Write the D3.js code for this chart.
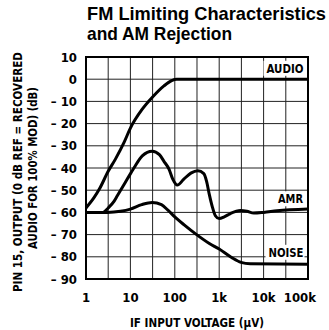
<!DOCTYPE html>
<html><head><meta charset="utf-8">
<script src="https://cdn.jsdelivr.net/npm/d3@7"></script>
<style>
html,body{margin:0;padding:0;background:#fff;}
svg{display:block;}
.c{font-family:"Liberation Sans Narrow","DejaVu Sans Condensed","Arial Narrow",sans-serif;font-weight:bold;}
</style></head>
<body><svg id="chart" width="329" height="330"></svg>
<script>
// ---- data ----
const titleLines = ["FM Limiting Characteristics", "and AM Rejection"];
const yTitleLines = ["PIN 15, OUTPUT (0 dB REF = RECOVERED", "AUDIO FOR 100% MOD) (dB)"];
const xTitle = "IF INPUT VOLTAGE (\u03bcV)";
const xTickValues = [1, 10, 100, 1000, 10000, 100000];
const xTickLabels = ["1", "10", "100", "1k", "10k", "100k"];
const xGridValues = [1, 3.162, 10, 31.62, 100, 316.2, 1000, 3162, 10000, 31620, 100000];
const yTickValues = [10, 0, -10, -20, -30, -40, -50, -60, -70, -80, -90];
const yTickLabels = ["10", "0", "\u2013 10", "\u2013 20", "\u2013 30", "\u2013 40", "\u2013 50", "\u2013 60", "\u2013 70", "\u2013 80", "\u2013 90"];

const audioX = [1, 1.5, 2, 3.16, 4.6, 7.2, 10, 18.5, 31.6, 57, 85, 110, 1000, 100000];
const audioY = [-58, -53.5, -49.5, -41.5, -36, -28.5, -22, -13.5, -8, -3, -0.6, 0, 0, 0];

const amrX = [1, 2.4, 3.16, 4.27, 5.07, 8.5, 12, 18.5, 31, 45, 57, 74, 90, 114, 160, 230, 330, 450, 520, 600, 700, 820, 1000, 1300, 1800, 3000, 4200, 6000, 10000, 20000, 100000];
const amrY = [-60, -60, -58, -55, -52.5, -45, -40, -34.5, -32.4, -34, -37, -40.5, -45, -47.7, -45, -42.3, -41.2, -42.5, -46, -52, -57.5, -61.5, -62.8, -62, -60.5, -59.2, -59.5, -60.3, -60, -59.3, -58.5];

const noiseX = [1, 3, 6, 10, 18, 31, 50, 70, 100, 160, 310, 600, 1000, 1900, 3100, 5000, 100000];
const noiseY = [-60, -60, -59.5, -58.5, -56.5, -55.5, -56.5, -59, -62, -65.5, -70, -74, -76.5, -80.3, -82.5, -83.1, -83.3];

const seriesLabels = ["AUDIO", "AMR", "NOISE"];

// ---- drawing ----
const svg = d3.select("#chart");
const x = d3.scaleLog().domain([1, 100000]).range([86, 308]);
const y = d3.scaleLinear().domain([10, -90]).range([57, 279]);

// title
const titleLen = [239, 145];
svg.selectAll(".title").data(titleLines).join("text")
  .attr("x", 87).attr("y", (d, i) => 20 + i * 20)
  .attr("textLength", (d, i) => titleLen[i]).attr("lengthAdjust", "spacingAndGlyphs")
  .style("font-family", "'Liberation Sans', Arial, sans-serif")
  .style("font-weight", "bold").style("font-size", "18.5px")
  .text(d => d);

// grid
const g = svg.append("g");
g.selectAll(".vg").data(xGridValues).join("line")
  .attr("x1", d => x(d)).attr("x2", d => x(d))
  .attr("y1", y(10)).attr("y2", y(-90))
  .attr("stroke", "#222").attr("stroke-width", 1);
g.selectAll(".hg").data(yTickValues).join("line")
  .attr("x1", x(1)).attr("x2", x(100000))
  .attr("y1", d => y(d)).attr("y2", d => y(d))
  .attr("stroke", "#222").attr("stroke-width", 1);
g.append("rect").attr("x", x(1)).attr("y", y(10))
  .attr("width", x(100000) - x(1)).attr("height", y(-90) - y(10))
  .attr("fill", "none").attr("stroke", "#000").attr("stroke-width", 2);

// y tick labels
svg.selectAll(".yl").data(yTickValues).join("text").attr("class", "c")
  .attr("x", 77).attr("y", d => y(d) + 4.5)
  .attr("text-anchor", "end").style("font-size", "13px")
  .text((d, i) => yTickLabels[i]);

// x tick labels
svg.selectAll(".xl").data(xTickValues).join("text").attr("class", "c")
  .attr("x", (d, i) => i === xTickValues.length - 1 ? x(d) + 8 : x(d))
  .attr("y", 302)
  .attr("text-anchor", (d, i) => i === xTickValues.length - 1 ? "end" : "middle")
  .style("font-size", "13px")
  .text((d, i) => xTickLabels[i]);

// x title
svg.append("text").attr("class", "c").attr("x", 197).attr("y", 327)
  .attr("text-anchor", "middle").style("font-size", "13px")
  .attr("textLength", 134).attr("lengthAdjust", "spacingAndGlyphs").text(xTitle);

// y title
const yTitleLen = [240, 162];
const yTitleCY = [172, 168];
svg.selectAll(".yt").data(yTitleLines).join("text").attr("class", "c")
  .attr("transform", (d, i) => `translate(${22 + i * 15},${yTitleCY[i]}) rotate(-90)`)
  .attr("text-anchor", "middle").style("font-size", "13px")
  .attr("textLength", (d, i) => yTitleLen[i]).attr("lengthAdjust", "spacingAndGlyphs")
  .text(d => d);

// curves
const line = d3.line().x(d => x(d[0])).y(d => y(d[1])).curve(d3.curveMonotoneX);
const series = [
  audioX.map((v, i) => [v, audioY[i]]),
  amrX.map((v, i) => [v, amrY[i]]),
  noiseX.map((v, i) => [v, noiseY[i]])
];
svg.selectAll(".curve").data(series).join("path")
  .attr("d", line).attr("fill", "none").attr("stroke", "#000")
  .attr("stroke-width", 3).attr("stroke-linejoin", "round");

// series labels with white boxes
const labelPos = [[303.5, 72.8], [303, 203.3], [303.5, 256.8]];
const labelLen = [37, 25, 35];
seriesLabels.forEach((t, i) => {
  const txt = svg.append("text").attr("class", "c")
    .attr("x", labelPos[i][0]).attr("y", labelPos[i][1])
    .attr("text-anchor", "end").style("font-size", "13px")
    .attr("textLength", labelLen[i]).attr("lengthAdjust", "spacingAndGlyphs").text(t);
  const b = txt.node().getBBox();
  svg.append("rect")
    .attr("x", b.x - 3).attr("y", b.y).attr("width", b.width + 4).attr("height", b.height)
    .attr("fill", "#fff");
  txt.raise();
});
</script></body></html>
